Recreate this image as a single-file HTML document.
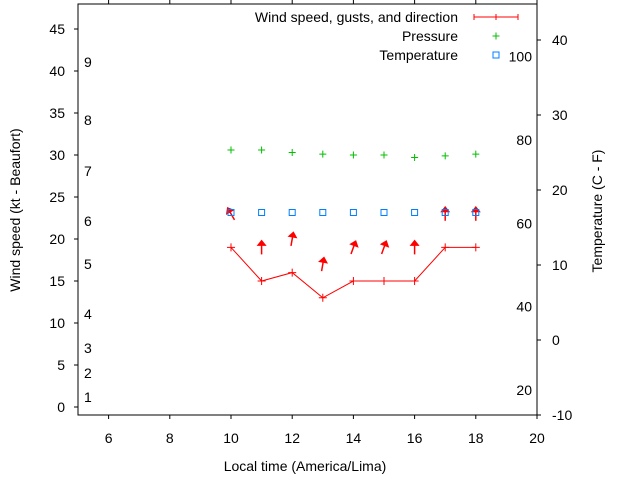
<!DOCTYPE html>
<html><head><meta charset="utf-8"><style>
body{margin:0;background:#fff}
svg text{font-family:"Liberation Sans",sans-serif;font-size:14px;fill:#000}
</style></head><body>
<svg width="640" height="480" viewBox="0 0 640 480" xmlns="http://www.w3.org/2000/svg" id="chart"></svg>
<script>
const hours=[10,11,12,13,14,15,16,17,18];
const windSpeed=[19,15,16,13,15,15,15,19,19];
const gustSpeed=[23,19,20,17,19,19,19,23,23];
const windDirDeg=[-30,0,10,10,20,20,0,0,0];
const pressure=[30.6,30.6,30.3,30.1,30.0,30.0,29.7,29.9,30.1];
const tempC=[17,17,17,17,17,17,17,17,17];
const xTicks=[6,8,10,12,14,16,18,20];
const yTicks=[0,5,10,15,20,25,30,35,40,45];
const cTicks=[-10,0,10,20,30,40];
const fTicks=[20,40,60,80,100];
const beaufort=[[1,397],[2,373],[3,348],[4,314],[5,264],[6,221],[7,171],[8,120],[9,62]];

const L=78,R=537,T=4,B=415;
const X=v=>L+(v-5)*(R-L)/15;
const Y=v=>407-v*8.4;
const YC=c=>340-c*7.5;
const YF=f=>YC((f-32)*5/9);
const svg=document.getElementById('chart');
const NS='http://www.w3.org/2000/svg';
function mk(tag,attrs,name,parent){const e=document.createElementNS(NS,tag);for(const k in attrs)e.setAttribute(k,attrs[k]);


(parent||svg).appendChild(e);return e;}
function txt(x,y,s,anchor,name,extra){const t=mk('text',Object.assign({x:x,y:y,'text-anchor':anchor||'start'},extra||{}),name);t.textContent=s;return t;}

mk('rect',{x:L,y:T,width:R-L,height:B-T,fill:'none',stroke:'#000','stroke-width':1},'plot-frame');
xTicks.forEach(v=>{mk('line',{x1:X(v),x2:X(v),y1:B,y2:B+4,stroke:'#000'},'x-tick');
mk('line',{x1:X(v),x2:X(v),y1:T,y2:T-4,stroke:'#000'},'x-tick-top');
txt(X(v),443,String(v),'middle','x-tick-label');});
yTicks.forEach(v=>{mk('line',{x1:L-4,x2:L,y1:Y(v),y2:Y(v),stroke:'#000'},'y-tick');
txt(L-13,Y(v)+5,String(v),'end','y-tick-label');});
cTicks.forEach(v=>{mk('line',{x1:R,x2:R+4,y1:YC(v),y2:YC(v),stroke:'#000'},'c-tick');
txt(R+15,YC(v)+5,String(v),'start','c-tick-label');});
fTicks.forEach(v=>{txt(R-5,YF(v)+5,String(v),'end','f-tick-label');});
beaufort.forEach(b=>txt(84,b[1]+5,String(b[0]),'start','beaufort-label'));

txt(305,471,'Local time (America/Lima)','middle','x-axis-title');
txt(0,0,'Wind speed (kt - Beaufort)','middle','y-axis-title',{transform:'translate(20,210) rotate(-90)'});
txt(0,0,'Temperature (C - F)','middle','y2-axis-title',{transform:'translate(602,211) rotate(-90)'});

// wind line
mk('polyline',{points:hours.map((h,i)=>X(h)+','+Y(windSpeed[i])).join(' '),fill:'none',stroke:'#f00','stroke-width':1},'wind-speed-line');
hours.forEach((h,i)=>{const x=X(h),y=Y(windSpeed[i]);
mk('path',{d:`M${x-4},${y}h8M${x},${y-4}v8`,stroke:'#f00','stroke-width':1},'wind-speed-point');});
// gust arrows
hours.forEach((h,i)=>{const cx=X(h),cy=Y(gustSpeed[i]);const a=windDirDeg[i];
const g=mk('g',{transform:`translate(${cx},${cy}) rotate(${a})`},'gust-arrow');
mk('line',{x1:0,y1:7,x2:0,y2:-4,stroke:'#f00','stroke-width':1.5},'gust-arrow-shaft',g);
mk('path',{d:'M-4,-2L0,-7L4,-2Z',fill:'#f00',stroke:'#f00'},'gust-arrow-head',g);});
// pressure
hours.forEach((h,i)=>{const x=X(h),y=Y(pressure[i]);
mk('path',{d:`M${x-3.5},${y}h7M${x},${y-3.5}v7`,stroke:'#00c000','stroke-width':1},'pressure-point');});
// temperature
hours.forEach((h,i)=>{const x=X(h),y=YC(tempC[i]);
mk('rect',{x:x-3,y:y-3,width:6,height:6,fill:'none',stroke:'#0080ff','stroke-width':1},'temperature-point');});

// legend
txt(458,22,'Wind speed, gusts, and direction','end','legend-wind-label');
mk('path',{d:'M474,17h44M474,14v6M518,14v6M496,14v6',stroke:'#f00'},'legend-wind-sample');
txt(458,41,'Pressure','end','legend-pressure-label');
mk('path',{d:'M492.5,36h7M496,32.5v7',stroke:'#00c000'},'legend-pressure-sample');
txt(458,60,'Temperature','end','legend-temperature-label');
mk('rect',{x:493,y:52,width:6,height:6,fill:'none',stroke:'#0080ff'},'legend-temperature-sample');
</script>
</body></html>
